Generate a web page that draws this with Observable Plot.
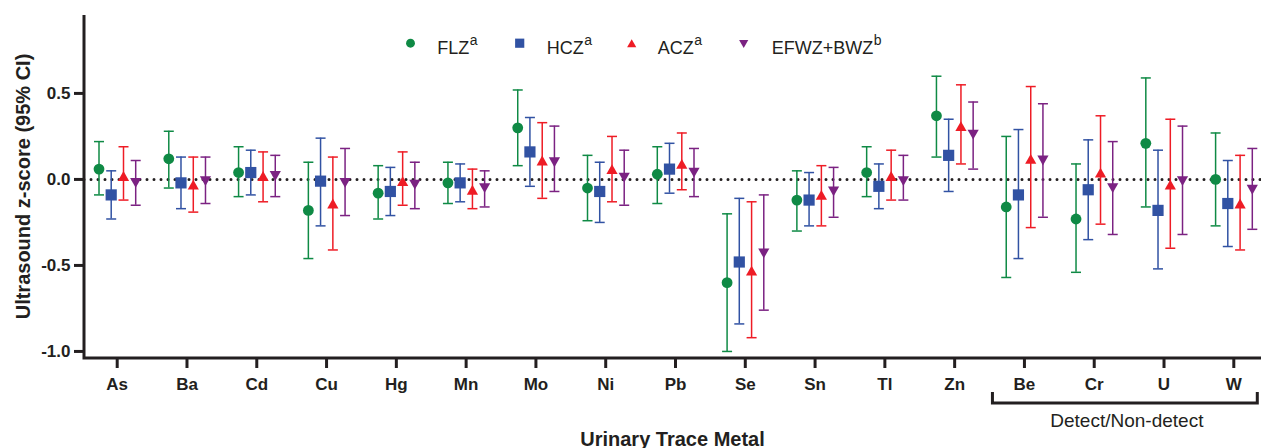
<!DOCTYPE html>
<html>
<head>
<meta charset="utf-8">
<script src="https://cdn.jsdelivr.net/npm/d3@7"></script>
<script src="https://cdn.jsdelivr.net/npm/@observablehq/plot@0.6"></script>
<style>
  body { margin: 0; background: #fff; }
  #wrap { position: relative; width: 1261px; height: 448px; font-family: "Liberation Sans", Arial, sans-serif; }
  #wrap svg { font-family: "Liberation Sans", Arial, sans-serif; }
  g[aria-label="x-axis tick label"] text, g[aria-label="y-axis tick label"] text { font-weight: bold; }
</style>
</head>
<body>
<div id="wrap"></div>
<script>
// ---------- data ----------
const metals = ["As","Ba","Cd","Cu","Hg","Mn","Mo","Ni","Pb","Se","Sn","Tl","Zn","Be","Cr","U","W"];
const detectMetals = ["Be","Cr","U","W"];
const seriesNames = ["FLZ","HCZ","ACZ","EFWZ+BWZ"];
const seriesSup = ["a","a","a","b"];

const flzEst = [0.06, 0.12, 0.04, -0.18, -0.08, -0.02, 0.30, -0.05, 0.03, -0.60, -0.12, 0.04, 0.37, -0.16, -0.23, 0.21, 0.00];
const flzLo  = [-0.09, -0.05, -0.10, -0.46, -0.23, -0.14, 0.08, -0.24, -0.14, -1.00, -0.30, -0.10, 0.13, -0.57, -0.54, -0.16, -0.27];
const flzHi  = [0.22, 0.28, 0.19, 0.10, 0.08, 0.10, 0.52, 0.14, 0.19, -0.20, 0.05, 0.19, 0.60, 0.25, 0.09, 0.59, 0.27];

const hczEst = [-0.09, -0.02, 0.04, -0.01, -0.07, -0.02, 0.16, -0.07, 0.06, -0.48, -0.12, -0.04, 0.14, -0.09, -0.06, -0.18, -0.14];
const hczLo  = [-0.23, -0.17, -0.09, -0.27, -0.21, -0.13, -0.04, -0.25, -0.08, -0.84, -0.27, -0.17, -0.07, -0.46, -0.35, -0.52, -0.39];
const hczHi  = [0.05, 0.13, 0.17, 0.24, 0.07, 0.09, 0.36, 0.10, 0.21, -0.11, 0.04, 0.09, 0.35, 0.29, 0.23, 0.17, 0.11];

const aczEst = [0.02, -0.03, 0.02, -0.14, -0.01, -0.06, 0.11, 0.06, 0.09, -0.53, -0.09, 0.02, 0.31, 0.12, 0.04, -0.03, -0.14];
const aczLo  = [-0.12, -0.19, -0.13, -0.41, -0.15, -0.17, -0.11, -0.13, -0.06, -0.92, -0.27, -0.12, 0.09, -0.28, -0.26, -0.40, -0.41];
const aczHi  = [0.19, 0.13, 0.16, 0.13, 0.16, 0.06, 0.33, 0.25, 0.27, -0.13, 0.08, 0.17, 0.55, 0.54, 0.37, 0.35, 0.14];

const efwEst = [-0.02, -0.01, 0.02, -0.02, -0.03, -0.05, 0.10, 0.01, 0.04, -0.43, -0.07, -0.01, 0.26, 0.11, -0.05, -0.01, -0.06];
const efwLo  = [-0.15, -0.14, -0.10, -0.21, -0.17, -0.16, -0.07, -0.15, -0.10, -0.76, -0.22, -0.12, 0.06, -0.22, -0.32, -0.32, -0.29];
const efwHi  = [0.11, 0.13, 0.14, 0.18, 0.10, 0.05, 0.31, 0.17, 0.18, -0.09, 0.07, 0.14, 0.45, 0.44, 0.22, 0.31, 0.18];

const yTicks = [0.5, 0.0, -0.5, -1.0];
const yTickLabels = ["0.5", "0.0", "-0.5", "-1.0"];
const yDomain = [-1.041, 0.953];

// ---------- symbols ----------
const circleSym = {draw(ctx, size){ const r = Math.sqrt(size/Math.PI)*1.08; ctx.moveTo(r, 0); ctx.arc(0,0,r,0,2*Math.PI); }};
const squareSym = {draw(ctx, size){ const r = Math.sqrt(size/Math.PI)*1.12; ctx.rect(-r,-r,2*r,2*r); }};
const upTriSym  = {draw(ctx, size){ const r = Math.sqrt(size/Math.PI); const w=r*1.12, h=r*0.98; ctx.moveTo(0,-h); ctx.lineTo(w,h); ctx.lineTo(-w,h); ctx.closePath(); }};
const downTriSym= {draw(ctx, size){ const r = Math.sqrt(size/Math.PI); const w=r*1.12, h=r*0.98; ctx.moveTo(0,h); ctx.lineTo(w,-h); ctx.lineTo(-w,-h); ctx.closePath(); }};
const capSym    = {draw(ctx, size){ const r = Math.sqrt(size/Math.PI); ctx.moveTo(-r,0); ctx.lineTo(r,0); }};

const colors = ["#0f8a45", "#3152a3", "#ee1c25", "#7b2282"];
const symbols = [circleSym, squareSym, upTriSym, downTriSym];
const offsets = [-18.2, -6, 6.3, 18.5];
const ests = [flzEst, hczEst, aczEst, efwEst];
const los = [flzLo, hczLo, aczLo, efwLo];
const his = [flzHi, hczHi, aczHi, efwHi];

const seriesData = seriesNames.map((name, s) =>
  metals.map((m, i) => ({metal: m, series: name, est: ests[s][i], lo: los[s][i], hi: his[s][i]})));

const ink = "#231f20";
const marks = [
  Plot.ruleY([0], {stroke: ink, strokeWidth: 3, strokeDasharray: "0,7", strokeLinecap: "round"})
];
seriesData.forEach((rows, s) => {
  const c = colors[s], dx = offsets[s];
  marks.push(
    Plot.ruleX(rows, {x: "metal", y1: "lo", y2: "hi", dx, stroke: c, strokeWidth: 1.5}),
    Plot.dot(rows, {x: "metal", y: "lo", dx, symbol: capSym, r: 5, stroke: c, strokeWidth: 1.5, fill: "none"}),
    Plot.dot(rows, {x: "metal", y: "hi", dx, symbol: capSym, r: 5, stroke: c, strokeWidth: 1.5, fill: "none"})
  );
});
seriesData.forEach((rows, s) => {
  marks.push(Plot.dot(rows, {x: "metal", y: "est", dx: offsets[s], symbol: symbols[s], r: 5, fill: colors[s], stroke: "none"}));
});
marks.push(
  Plot.axisX({tickSize: 10, tickPadding: 9, strokeWidth: 3, stroke: ink, fill: ink, fontSize: 17, fontWeight: "bold", label: null}),
  Plot.axisY({ticks: yTicks, tickFormat: (d) => yTickLabels[yTicks.indexOf(d)], tickSize: 10, tickPadding: 4, strokeWidth: 3, stroke: ink, fill: ink, fontSize: 17, fontWeight: "bold", label: null})
);

const W = 1261, H = 448, ML = 84;
const plot = Plot.plot({
  width: W, height: H,
  marginLeft: ML, marginRight: 0, marginTop: 15, marginBottom: 90,
  x: {type: "point", domain: metals, range: [116.7, 1233.3], padding: 0, round: false},
  y: {domain: yDomain},
  style: {background: "#fff", fontFamily: '"Liberation Sans", Arial, sans-serif', overflow: "visible"},
  marks
});
document.getElementById("wrap").append(plot);

// ---------- axis lines, bracket, titles, legend ----------
const xs = plot.scale("x"), ys = plot.scale("y");
const svg = d3.select(plot);
const yTop = ys.apply(yDomain[1]), yBot = ys.apply(yDomain[0]);
svg.append("path")
  .attr("d", `M${ML},${yTop} V${yBot} H${W}`)
  .attr("fill", "none").attr("stroke", ink).attr("stroke-width", 3).attr("stroke-linejoin", "miter");

const bx1 = xs.apply(detectMetals[0]) - 31.5, bx2 = xs.apply(detectMetals[detectMetals.length - 1]) + 24;
svg.append("path")
  .attr("d", `M${bx1},${yBot + 34} V${yBot + 45} H${bx2} V${yBot + 34}`)
  .attr("fill", "none").attr("stroke", ink).attr("stroke-width", 3);
svg.append("text")
  .attr("x", (bx1 + bx2) / 2 + 2).attr("y", yBot + 69)
  .attr("text-anchor", "middle").attr("font-size", 19).attr("fill", ink)
  .text("Detect/Non-detect");

svg.append("text")
  .attr("x", (ML + W) / 2).attr("y", 446)
  .attr("text-anchor", "middle").attr("font-size", 20).attr("font-weight", "bold").attr("fill", ink)
  .text("Urinary Trace Metal");
svg.append("text")
  .attr("transform", `translate(30,${(yTop + yBot) / 2}) rotate(-90)`)
  .attr("text-anchor", "middle").attr("font-size", 20).attr("font-weight", "bold").attr("fill", ink)
  .text("Ultrasound z-score (95% CI)");

const legendMarkX = [410.5, 519.7, 631.7, 743.7];
const legendTextX = [437.3, 546.7, 657.7, 771.7];
const lg = svg.append("g").attr("text-anchor", "start");
seriesNames.forEach((name, s) => {
  const sym = d3.symbol().type(symbols[s]).size(Math.PI * 4.1 * 4.1);
  lg.append("path").attr("d", sym()).attr("fill", colors[s])
    .attr("transform", `translate(${legendMarkX[s]},${s === 3 ? 44 : 43.2})`);
  const t = lg.append("text").attr("x", legendTextX[s]).attr("y", 53.5)
    .attr("text-anchor", "start").attr("font-size", 18).attr("fill", ink);
  t.append("tspan").text(name);
  t.append("tspan").attr("dy", -9).attr("dx", 0.5).attr("font-size", 14).text(seriesSup[s]);
});
</script>
</body>
</html>
